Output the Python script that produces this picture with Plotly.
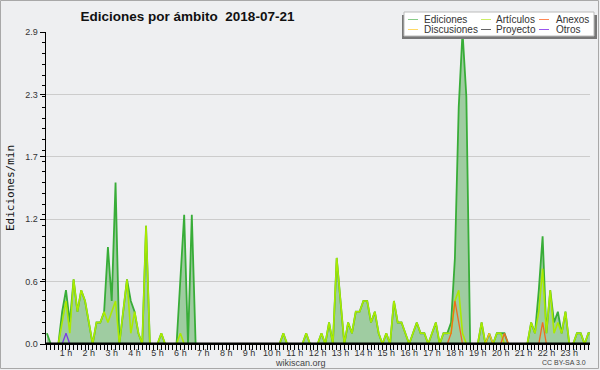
import plotly.graph_objects as go

# ---- data: edits per minute, 10-minute buckets (bucket end time in minutes) ----
minutes = list(range(10, 1441, 10))

ediciones = [
    0.1, 0, 0, 0, 0.3, 0.5, 0.2, 0.6, 0.3, 0.5, 0.4, 0.2,
    0, 0.2, 0.2, 0.3, 0.9, 0.4, 1.5, 0, 0.3, 0.6, 0.4, 0.3,
    0.1, 0, 1.1, 0, 0, 0, 0.1, 0, 0, 0, 0, 0.6,
    1.2, 0, 1.2, 0, 0, 0, 0, 0, 0, 0, 0, 0,
    0, 0, 0, 0, 0, 0, 0, 0, 0, 0, 0, 0,
    0, 0, 0.1, 0, 0, 0, 0, 0, 0.1, 0, 0, 0,
    0.1, 0, 0.2, 0, 0.8, 0.4, 0, 0.2, 0.1, 0.3, 0.3, 0.4,
    0.4, 0.2, 0.3, 0.1, 0, 0.1, 0, 0.4, 0.2, 0.2, 0.1, 0,
    0.1, 0.2, 0.1, 0.1, 0, 0.1, 0.2, 0, 0.1, 0.1, 0.2, 0.8,
    2.2, 2.9, 2.3, 0, 0, 0, 0.2, 0, 0.1, 0, 0.1, 0.1,
    0.1, 0, 0, 0, 0, 0, 0, 0.2, 0.1, 0.5, 1.0, 0.1,
    0.5, 0.2, 0.3, 0.1, 0.3, 0, 0, 0.1, 0.1, 0, 0.1, 0.1,
]
articulos = [
    0, 0, 0, 0, 0.2, 0.4, 0.1, 0.6, 0.3, 0.5, 0.4, 0.2,
    0, 0.2, 0.2, 0.3, 0.2, 0.3, 0.4, 0, 0.3, 0.6, 0.1, 0.3,
    0.1, 0, 1.1, 0, 0, 0, 0.1, 0, 0, 0, 0, 0.1,
    0, 0, 0, 0, 0, 0, 0, 0, 0, 0, 0, 0,
    0, 0, 0, 0, 0, 0, 0, 0, 0, 0, 0, 0,
    0, 0, 0.1, 0, 0, 0, 0, 0, 0.1, 0, 0, 0,
    0.1, 0, 0.2, 0, 0.8, 0.4, 0, 0.2, 0.1, 0.3, 0.3, 0.4,
    0.4, 0.2, 0.3, 0.1, 0, 0.1, 0, 0.4, 0.2, 0.2, 0.1, 0,
    0.1, 0.2, 0.1, 0.1, 0, 0.1, 0.2, 0, 0.1, 0.1, 0.1, 0.4,
    0.5, 0.1, 0, 0, 0, 0, 0.2, 0, 0, 0, 0.1, 0.1,
    0, 0, 0, 0, 0, 0, 0, 0.2, 0.1, 0.3, 0.7, 0.1,
    0.5, 0.1, 0.2, 0.1, 0.3, 0, 0, 0.1, 0.1, 0, 0.1, 0.1,
]
anexos = [
    0, 0, 0, 0, 0, 0, 0, 0, 0, 0, 0, 0,
    0, 0, 0, 0, 0, 0, 0, 0, 0, 0, 0, 0,
    0, 0, 0, 0, 0, 0, 0, 0, 0, 0, 0, 0,
    0, 0, 0, 0, 0, 0, 0, 0, 0, 0, 0, 0,
    0, 0, 0, 0, 0, 0, 0, 0, 0, 0, 0, 0,
    0, 0, 0, 0, 0, 0, 0, 0, 0, 0, 0, 0,
    0, 0, 0, 0, 0, 0, 0, 0, 0, 0, 0, 0,
    0, 0, 0, 0, 0, 0, 0, 0, 0, 0, 0, 0,
    0, 0, 0, 0, 0, 0, 0, 0, 0, 0, 0.1, 0.4,
    0.2, 0, 0, 0, 0, 0, 0, 0, 0, 0, 0, 0,
    0.1, 0, 0, 0, 0, 0, 0, 0, 0, 0, 0.2, 0,
    0, 0, 0, 0, 0, 0, 0, 0, 0, 0, 0, 0,
]
discusiones = [
    0, 0, 0, 0, 0, 0, 0, 0, 0, 0, 0, 0,
    0, 0, 0, 0, 0, 0, 0, 0, 0, 0, 0, 0,
    0, 0, 0, 0, 0, 0, 0, 0, 0, 0, 0, 0,
    0, 0, 0, 0, 0, 0, 0, 0, 0, 0, 0, 0,
    0, 0, 0, 0, 0, 0, 0, 0, 0, 0, 0, 0,
    0, 0, 0, 0, 0, 0, 0, 0, 0, 0, 0, 0,
    0, 0, 0, 0, 0, 0, 0, 0, 0, 0, 0, 0,
    0, 0, 0, 0, 0, 0, 0, 0, 0, 0, 0, 0,
    0, 0, 0, 0, 0, 0, 0, 0, 0, 0, 0, 0,
    0, 0, 0, 0, 0, 0, 0, 0, 0.1, 0, 0, 0,
    0, 0, 0, 0, 0, 0, 0, 0, 0, 0, 0, 0,
    0, 0, 0, 0, 0, 0, 0, 0, 0, 0, 0, 0,
]
proyecto = [0] * 144
otros = [
    0, 0, 0, 0, 0, 0.1, 0, 0, 0, 0, 0, 0,
    0, 0, 0, 0, 0, 0, 0, 0, 0, 0, 0, 0,
    0, 0, 0, 0, 0, 0, 0, 0, 0, 0, 0, 0,
    0, 0, 0, 0, 0, 0, 0, 0, 0, 0, 0, 0,
    0, 0, 0, 0, 0, 0, 0, 0, 0, 0, 0, 0,
    0, 0, 0, 0, 0, 0, 0, 0, 0, 0, 0, 0,
    0, 0, 0, 0, 0, 0, 0, 0, 0, 0, 0, 0,
    0, 0, 0, 0, 0, 0, 0, 0, 0, 0, 0, 0,
    0, 0, 0, 0, 0, 0, 0, 0, 0, 0, 0, 0,
    0, 0, 0, 0, 0, 0, 0, 0, 0, 0, 0, 0,
    0, 0, 0, 0, 0, 0, 0, 0, 0, 0, 0, 0,
    0, 0, 0, 0, 0, 0, 0, 0, 0, 0, 0, 0,
]

x_tick_vals = [h * 60 for h in range(1, 24)]
x_tick_text = [f"{h} h" for h in range(1, 24)]
y_tick_vals = [0, 0.58, 1.16, 1.74, 2.32, 2.9]
y_tick_text = ["0.0", "0.6", "1.2", "1.7", "2.3", "2.9"]

legend_names = ["Ediciones", "Artículos", "Anexos", "Discusiones", "Proyecto", "Otros"]

# ---- layout geometry (pixels) ----
W, H = 600, 370
L, R, T, B = 46, 10, 32, 26
PW, PH = W - L - R, H - T - B
BG = "#eeeff1"
FONT = "Liberation Sans, Arial, sans-serif"


def px(xp):
    return (xp - L) / PW


def py(yp):
    return (H - B - yp) / PH


fig = go.Figure()

fig.add_trace(go.Scatter(
    x=minutes, y=ediciones, name=legend_names[0], mode="lines",
    line=dict(color="#38ad38", width=1.8), fill="tozeroy",
    fillcolor="rgba(60,160,60,0.44)", showlegend=False))
fig.add_trace(go.Scatter(
    x=minutes, y=proyecto, name=legend_names[4], mode="lines",
    line=dict(color="#555555", width=1.3), showlegend=False))
fig.add_trace(go.Scatter(
    x=minutes, y=articulos, name=legend_names[1], mode="lines",
    line=dict(color="#aaea00", width=1.6), showlegend=False))
fig.add_trace(go.Scatter(
    x=minutes, y=discusiones, name=legend_names[3], mode="lines",
    line=dict(color="#f2c21a", width=1.3), showlegend=False))
fig.add_trace(go.Scatter(
    x=minutes, y=anexos, name=legend_names[2], mode="lines",
    line=dict(color="#f06a1e", width=1.3), showlegend=False))
fig.add_trace(go.Scatter(
    x=minutes, y=otros, name=legend_names[5], mode="lines",
    line=dict(color="#7a3ae6", width=1.3), showlegend=False))

x_lo = 7.6
x_hi = x_lo + PW / 0.3813

fig.update_layout(
    width=W, height=H, autosize=False,
    margin=dict(l=L, r=R, t=T, b=B, pad=0, autoexpand=False),
    paper_bgcolor=BG, plot_bgcolor=BG,
    font=dict(family=FONT, size=9, color="#333333"),
    showlegend=False,
    title=dict(text="<b>Ediciones por ámbito\u00a0\u00a02018-07-21</b>",
               x=187.5 / W, xref="container", xanchor="center",
               y=1 - 16.5 / H, yanchor="middle",
               font=dict(family=FONT, size=13.5, color="#111111")),
    xaxis=dict(
        range=[x_lo, x_hi], showgrid=False, zeroline=False, automargin=False,
        showline=False,
        tickmode="array", tickvals=x_tick_vals, ticktext=x_tick_text,
        ticks="outside", ticklen=5, tickwidth=1, tickcolor="#000000",
        ticklabelstandoff=-5,
        tickfont=dict(family=FONT, size=9, color="#333333"),
        minor=dict(tickmode="linear", tick0=0, dtick=10, ticks="outside",
                   ticklen=5, tickwidth=1, tickcolor="#000000"),
    ),
    yaxis=dict(
        range=[0, 2.9], showgrid=True, gridcolor="#cccccc", gridwidth=1,
        zeroline=False, showline=True, linecolor="#000000", linewidth=1.5,
        automargin=False,
        tickmode="array", tickvals=y_tick_vals, ticktext=y_tick_text,
        ticks="outside", ticklen=5, tickwidth=1, tickcolor="#000000",
        tickfont=dict(family=FONT, size=9, color="#333333"),
        minor=dict(tickmode="linear", tick0=0, dtick=0.1, ticks="outside",
                   ticklen=3, tickwidth=1, tickcolor="#000000", showgrid=False),
    ),
)

shapes = []
annotations = []

# x axis baseline drawn above the traces (hides zero-valued lines)
shapes.append(dict(type="line", xref="paper", yref="paper",
                   x0=px(45), x1=px(W - R), y0=py(H - B - 0.2), y1=py(H - B - 0.2),
                   line=dict(color="#000000", width=2.4), layer="above"))

# outer frame
shapes.append(dict(type="rect", xref="paper", yref="paper",
                   x0=px(0.5), x1=px(W - 1.5), y0=py(0.5), y1=py(H - 1.5),
                   line=dict(color="#a8a8a8", width=1), fillcolor="rgba(0,0,0,0)",
                   layer="above"))

# legend box with shadow
shapes.append(dict(type="rect", xref="paper", yref="paper",
                   x0=px(402), x1=px(597), y0=py(15), y1=py(39),
                   line=dict(width=0), fillcolor="#777777", layer="above"))
shapes.append(dict(type="rect", xref="paper", yref="paper",
                   x0=px(404), x1=px(594), y0=py(12), y1=py(36),
                   line=dict(color="#bbbbbb", width=1), fillcolor="#ffffff",
                   layer="above"))

legend_colors = ["#88cc88", "#ccee66", "#ff8855", "#ffd966", "#666666", "#9955ee"]
col_line_x = [408, 481, 539]
col_text_x = [424, 496, 556]
row_y = [19.5, 29.5]
for k, name in enumerate(legend_names):
    r, c = divmod(k, 3)
    shapes.append(dict(type="line", xref="paper", yref="paper",
                       x0=px(col_line_x[c]), x1=px(col_line_x[c] + 10),
                       y0=py(row_y[r]), y1=py(row_y[r]),
                       line=dict(color=legend_colors[k], width=1), layer="above"))
    annotations.append(dict(text=name, xref="paper", yref="paper",
                            x=px(col_text_x[c] - 2), y=py(row_y[r]),
                            xanchor="left", yanchor="middle", showarrow=False,
                            font=dict(family=FONT, size=10, color="#333333")))

# y axis title
annotations.append(dict(text="Ediciones/min", xref="paper", yref="paper",
                        x=px(10), y=py(188), textangle=-90,
                        xanchor="center", yanchor="middle", showarrow=False,
                        font=dict(family="DejaVu Sans Mono, monospace", size=11,
                                  color="#111111")))
# footer texts
annotations.append(dict(text="wikiscan.org", xref="paper", yref="paper",
                        x=px(300), y=py(362.5), xanchor="center", yanchor="middle",
                        showarrow=False,
                        font=dict(family=FONT, size=9, color="#444444")))
annotations.append(dict(text="CC BY-SA 3.0", xref="paper", yref="paper",
                        x=px(588), y=py(362.5), xanchor="right", yanchor="middle",
                        showarrow=False,
                        font=dict(family=FONT, size=7, color="#444444")))

fig.update_layout(shapes=shapes, annotations=annotations)

fig.write_html("out.html",
               config={"displayModeBar": False, "staticPlot": True},
               post_script="document.body.style.margin='0px';"
                           "document.body.style.overflow='hidden';")
